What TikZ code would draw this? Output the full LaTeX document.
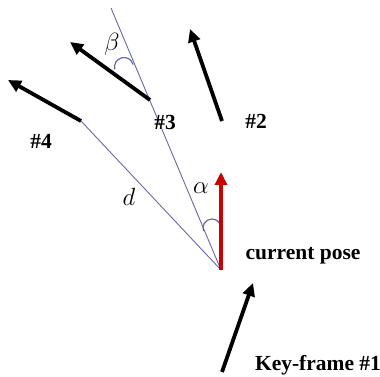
\documentclass[tikz,border=0pt]{standalone}
\usepackage{fontspec}
\setmainfont{Liberation Serif}
\usepackage{tikz}
\usetikzlibrary{arrows.meta}
\definecolor{raycol}{RGB}{104,104,168}
\definecolor{posecol}{RGB}{204,0,0}

\begin{document}
\begin{tikzpicture}[x=1pt,y=1pt,
    pose/.style={line width=3.8pt,-{Triangle[length=13pt,width=12pt]}},
    ray/.style={raycol,line width=0.9pt},
    lbl/.style={font=\fontsize{21.5}{24}\selectfont\bfseries,inner sep=0pt},
    sym/.style={font=\fontsize{23}{25}\selectfont,inner sep=0pt}]
  \useasboundingbox (0,0) rectangle (380,377);

  % The current pose and the key-frames around it.
  \coordinate (P) at (221,107);
  \coordinate (Ptip) at (221,205);
  \coordinate (K1) at (222,5);
  \coordinate (K1tip) at (253,94);
  \coordinate (K2) at (222,256);
  \coordinate (K2tip) at (190,348);
  \coordinate (K3) at (150,277);
  \coordinate (K3tip) at (70,335);
  \coordinate (K4) at (81,256);
  \coordinate (K4tip) at (8,297);
  \coordinate (R3end) at (111,369);

  % Rays from the current pose.
  \draw[ray] (P)--(R3end);
  \draw[ray] (P)--(K4);

  % Angle marks.
  \draw[ray,line width=1.2pt] (212,149) ++(0:9) arc[start angle=0,end angle=200,radius=9];
  \draw[ray,line width=1.2pt] (124,310) ++(15:9.5) arc[start angle=15,end angle=195,radius=9.5];

  \draw[pose,posecol] (P)--(Ptip);
  \draw[pose] (K1)--(K1tip);
  \draw[pose] (K2)--(K2tip);
  \draw[pose] (K3)--(K3tip);
  \draw[pose] (K4)--(K4tip);

  \node[sym] (alpha) at (201,189) {$\alpha$};
  \node[sym] (beta) at (112,333) {$\beta$};
  \node[sym] (dist) at (129,180) {$d$};
  \node[lbl] (n2) at (256,256) {\#2};
  \node[lbl] (n3) at (165,255) {\#3};
  \node[lbl] (n4) at (41,236) {\#4};
  \node[lbl] (cur) at (303,121) {current pose};
  \node[lbl] (n1) at (318,12) {Key-frame \#1};
\end{tikzpicture}
\end{document}
